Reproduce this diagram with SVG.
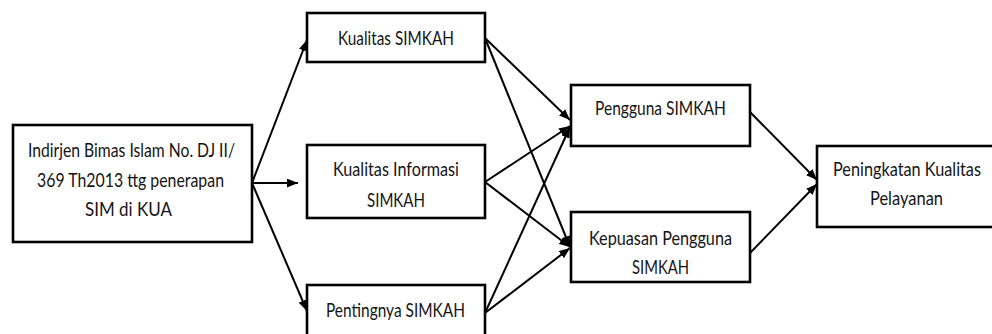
<svg xmlns="http://www.w3.org/2000/svg" width="992" height="334" viewBox="0 0 992 334">
<style>
.box{fill:#fff;stroke:#000;stroke-width:2.6}
.t{font-family:Lato,"Liberation Sans",sans-serif;font-size:19px;fill:#141414}
.c{stroke:#000;stroke-width:2;fill:none;marker-end:url(#ah)}
</style>
<defs>
<marker id="ah" viewBox="0 0 10 8" refX="10" refY="4" markerWidth="11" markerHeight="9" markerUnits="userSpaceOnUse" orient="auto">
<path d="M0,0 L10,4 L0,8 Z" fill="#000"/>
</marker>
</defs>
<rect width="992" height="334" fill="#fff"/>
<g id="connectors">
<line class="c" x1="252" y1="183" x2="307" y2="40"/>
<line class="c" x1="252" y1="183" x2="298" y2="183"/>
<line class="c" x1="252" y1="183" x2="307" y2="311"/>
<line class="c" x1="485" y1="38" x2="570" y2="120"/>
<line class="c" x1="485" y1="38" x2="570" y2="247"/>
<line class="c" x1="485" y1="182" x2="570" y2="126"/>
<line class="c" x1="485" y1="182" x2="570" y2="247"/>
<line class="c" x1="485" y1="313" x2="570" y2="127"/>
<line class="c" x1="485" y1="313" x2="570" y2="248"/>
<line class="c" x1="750" y1="112" x2="817" y2="180"/>
<line class="c" x1="750" y1="253" x2="817" y2="184"/>
</g>
<g id="n-indirjen">
<rect class="box" x="13" y="125" width="239" height="117"/>
<text class="t" x="28" y="157" textLength="207" lengthAdjust="spacingAndGlyphs">Indirjen Bimas Islam No. DJ II/</text>
<text class="t" x="37" y="187" textLength="187" lengthAdjust="spacingAndGlyphs">369 Th2013 ttg penerapan</text>
<text class="t" x="85" y="216" textLength="87" lengthAdjust="spacingAndGlyphs">SIM di KUA</text>
</g>
<g id="n-kualitas-simkah">
<rect class="box" x="307" y="13" width="178" height="49"/>
<text class="t" x="338" y="45" textLength="116" lengthAdjust="spacingAndGlyphs">Kualitas SIMKAH</text>
</g>
<g id="n-kualitas-informasi">
<rect class="box" x="307" y="145" width="178" height="73"/>
<text class="t" x="333" y="176" textLength="126" lengthAdjust="spacingAndGlyphs">Kualitas Informasi</text>
<text class="t" x="367" y="207" textLength="58" lengthAdjust="spacingAndGlyphs">SIMKAH</text>
</g>
<g id="n-pentingnya">
<rect class="box" x="307" y="285" width="178" height="60"/>
<text class="t" x="326" y="317" textLength="139" lengthAdjust="spacingAndGlyphs">Pentingnya SIMKAH</text>
</g>
<g id="n-pengguna">
<rect class="box" x="571" y="85" width="179" height="61"/>
<text class="t" x="595" y="115" textLength="131" lengthAdjust="spacingAndGlyphs">Pengguna SIMKAH</text>
</g>
<g id="n-kepuasan">
<rect class="box" x="571" y="212" width="179" height="70"/>
<text class="t" x="589" y="245" textLength="143" lengthAdjust="spacingAndGlyphs">Kepuasan Pengguna</text>
<text class="t" x="632" y="274" textLength="57" lengthAdjust="spacingAndGlyphs">SIMKAH</text>
</g>
<g id="n-peningkatan">
<rect class="box" x="817" y="146" width="180" height="81"/>
<text class="t" x="833" y="176" textLength="148" lengthAdjust="spacingAndGlyphs">Peningkatan Kualitas</text>
<text class="t" x="870" y="205" textLength="73" lengthAdjust="spacingAndGlyphs">Pelayanan</text>
</g>
</svg>
